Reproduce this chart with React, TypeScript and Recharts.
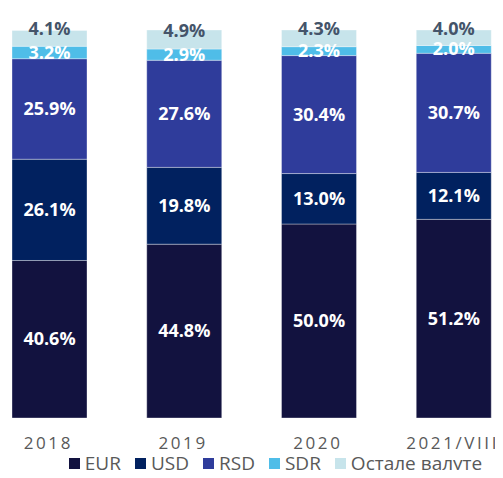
import { BarChart, Bar, XAxis, YAxis, Legend, LabelList } from "recharts";

const godine = ["2018", "2019", "2020", "2021/VIII"];
const eur = [40.6, 44.8, 50.0, 51.2];
const usd = [26.1, 19.8, 13.0, 12.1];
const rsd = [25.9, 27.6, 30.4, 30.7];
const sdr = [3.2, 2.9, 2.3, 2.0];
const ostale = [4.1, 4.9, 4.3, 4.0];

const serije = [
  { key: "eur", name: "EUR", color: "#12123f" },
  { key: "usd", name: "USD", color: "#01215f" },
  { key: "rsd", name: "RSD", color: "#2f3c9b" },
  { key: "sdr", name: "SDR", color: "#4fbde8" },
  { key: "ostale", name: "Остале валуте", color: "#c7e4eb" },
];

const data = godine.map((g, i) => ({
  godina: g,
  eur: eur[i],
  usd: usd[i],
  rsd: rsd[i],
  sdr: sdr[i],
  ostale: ostale[i],
}));

const font = "'Open Sans', sans-serif";

const Oznaka = (props: any) => {
  const { x, y, width, height, value } = props;
  return (
    <text
      x={x + width / 2}
      y={y + height / 2}
      dy={6}
      textAnchor="middle"
      fill="#ffffff"
      fontFamily={font}
      fontWeight={700}
      fontSize={18}
    >
      {Number(value).toFixed(1)}%
    </text>
  );
};

const OznakaGore = (props: any) => {
  const { x, y, width, height, value } = props;
  return (
    <text
      x={x + width / 2}
      y={y + height / 2 - 9}
      dy={6}
      textAnchor="middle"
      fill="#44546a"
      fontFamily={font}
      fontWeight={700}
      fontSize={18}
    >
      {Number(value).toFixed(1)}%
    </text>
  );
};

const Tik = (props: any) => {
  const { x, y, payload } = props;
  return (
    <text
      x={x - 1}
      y={y + 29}
      textAnchor="middle"
      fill="#595959"
      fontFamily={font}
      fontSize={17}
      letterSpacing={2.6}
    >
      {payload.value}
    </text>
  );
};

const Legenda = () => (
  <div
    style={{
      display: "flex",
      justifyContent: "center",
      fontFamily: font,
      fontSize: 19,
      lineHeight: "22px",
      color: "#595959",
      paddingLeft: 62,
      paddingTop: 4,
    }}
  >
    {serije.map((s) => (
      <div key={s.key} style={{ display: "flex", alignItems: "center", marginRight: 14 }}>
        <span style={{ width: 11, height: 11, background: s.color, marginRight: 5, display: "inline-block" }} />
        <span>{s.name}</span>
      </div>
    ))}
  </div>
);

export default function App() {
  return (
    <BarChart
      width={495}
      height={462}
      data={data}
      margin={{ top: 22, right: -18, bottom: 0, left: -26 }}
      barSize={75}
    >
      <XAxis
        dataKey="godina"
        axisLine={false}
        tickLine={false}
        tickSize={0}
        height={30}
        tick={<Tik />}
        interval={0}
      />
      <YAxis hide domain={[0, 100]} />
      <Legend verticalAlign="bottom" height={22} content={<Legenda />} />
      {serije.map((s) => (
        <Bar
          key={s.key}
          dataKey={s.key}
          name={s.name}
          stackId="a"
          fill={s.color}
          stroke="rgba(255,255,255,0.35)"
          strokeWidth={1}
          isAnimationActive={false}
        >
          {s.key === "ostale" ? (
            <LabelList dataKey={s.key} content={<OznakaGore />} />
          ) : (
            <LabelList dataKey={s.key} content={<Oznaka />} />
          )}
        </Bar>
      ))}
    </BarChart>
  );
}
